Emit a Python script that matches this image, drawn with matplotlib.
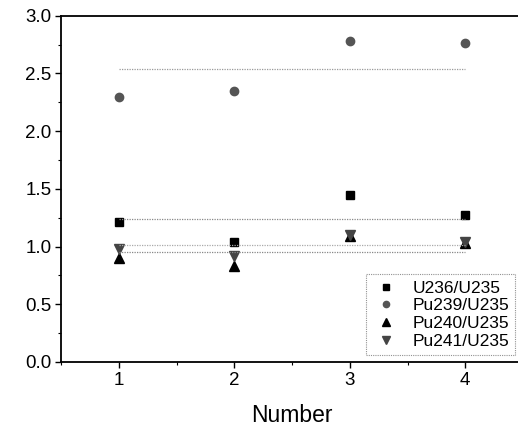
import matplotlib
matplotlib.use("Agg")
import matplotlib.pyplot as plt
from matplotlib.ticker import MultipleLocator

plt.rcParams['font.family'] = ['Liberation Sans', 'DejaVu Sans']

number = [1, 2, 3, 4]
u236 = [1.21, 1.04, 1.45, 1.27]
pu239 = [2.30, 2.35, 2.78, 2.76]
pu240 = [0.90, 0.83, 1.09, 1.03]
pu241 = [0.98, 0.92, 1.10, 1.04]

# average lines
avg_u236 = 1.24
avg_pu239 = 2.54
avg_pu240 = 0.95
avg_pu241 = 1.01

fig = plt.figure(figsize=(5.18, 4.26), dpi=100)
ax = fig.add_axes([61/518, 1 - 362/426, 462/518, (362 - 15.7)/426])

ax.plot(number, u236, 's', color='black', ms=6, label='U236/U235')
ax.plot(number, pu239, 'o', color='#555555', ms=6, label='Pu239/U235')
ax.plot(number, pu240, '^', color='black', ms=7, label='Pu240/U235')
ax.plot(number, pu241, 'v', color='#444444', ms=7, label='Pu241/U235')

for v, c in [(avg_u236, '#888888'), (avg_pu239, '#999999'),
             (avg_pu240, '#888888'), (avg_pu241, '#aaaaaa')]:
    ax.hlines(v, number[0], number[-1], colors=c, linestyles=(0, (1, 1)), lw=0.9)

ax.set_xlim(0.5, 4.5)
ax.set_ylim(0, 3.0)
ax.xaxis.set_major_locator(MultipleLocator(1))
ax.xaxis.set_minor_locator(MultipleLocator(0.5))
ax.yaxis.set_major_locator(MultipleLocator(0.5))
ax.yaxis.set_minor_locator(MultipleLocator(0.25))
ax.tick_params(which='major', length=4, width=1, labelsize=13.5, direction='out', pad=3)
ax.tick_params(which='minor', length=2.5, width=0.8, direction='out')
for s in ax.spines.values():
    s.set_linewidth(1.3)

ax.set_xlabel('Number', fontsize=16.5, labelpad=11)

leg = ax.legend(loc='lower right', bbox_to_anchor=(515/518, 1 - 355/426),
                bbox_transform=fig.transFigure, markerscale=0.75, borderaxespad=0,
                fontsize=12.5, frameon=True, fancybox=False, handletextpad=0.7,
                borderpad=0.35, labelspacing=0.15, handlelength=1.6)
leg.get_frame().set_edgecolor('#777777')
leg.get_frame().set_linestyle((0, (1, 1)))
leg.get_frame().set_linewidth(0.8)

fig.savefig('out.png', dpi=100)
